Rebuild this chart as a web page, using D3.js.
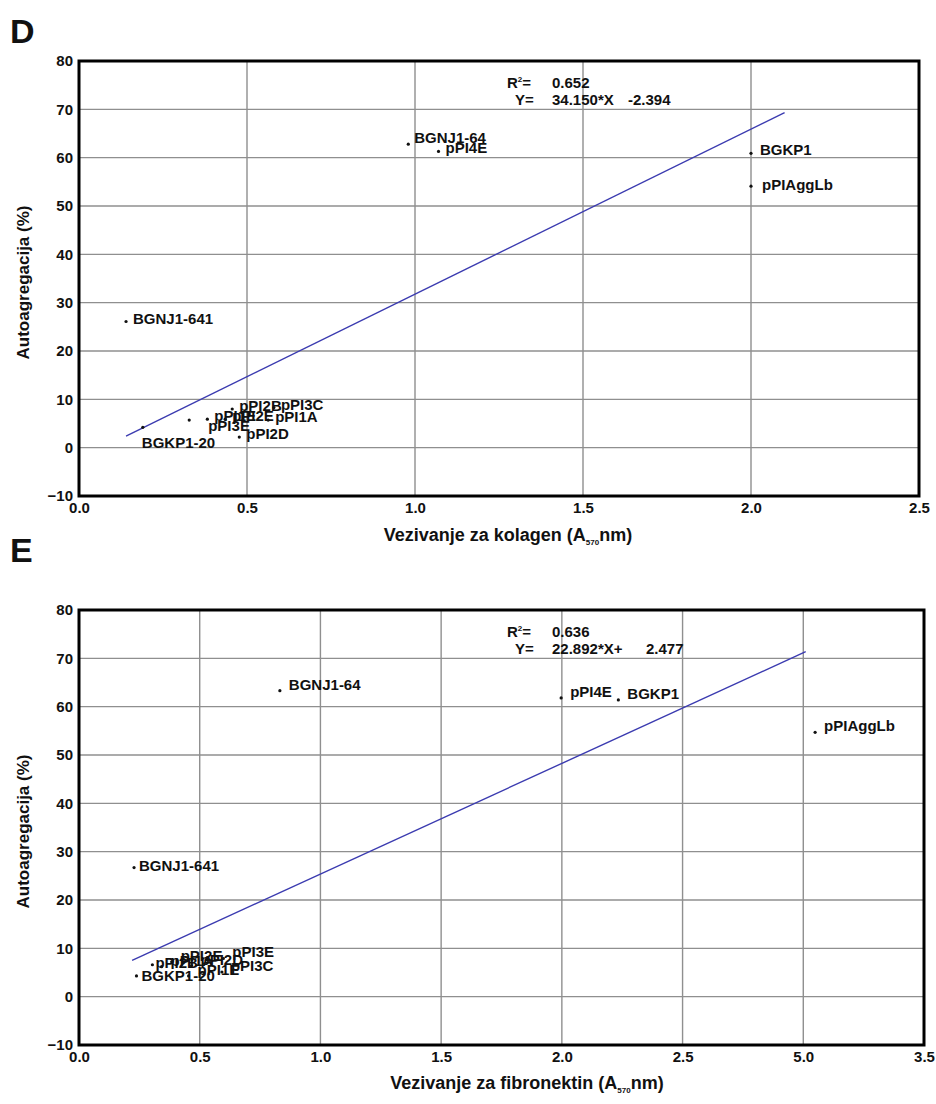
<!DOCTYPE html>
<html>
<head>
<meta charset="utf-8">
<script src="https://cdn.jsdelivr.net/npm/d3@7/dist/d3.min.js"></script>
<style>
  html, body { margin: 0; padding: 0; background: #fff; }
  svg { display: block; }
  text { font-family: "Liberation Sans", Arial, Helvetica, sans-serif; font-weight: bold; fill: #111; }
</style>
</head>
<body>
<script>
// ---------------- DATA ----------------
// Panel D: collagen binding vs autoaggregation
const strainsD = ["BGNJ1-64", "pPI4E", "BGKP1", "pPIAggLb", "BGNJ1-641", "BGKP1-20",
                  "pPI2B", "pPI3C", "pPI1A", "pPI2D", "pPI3E", "pPI1E", "pPI2E"];
const collagenD = [0.98, 1.07, 2.00, 2.00, 0.14, 0.19,
                   0.456, 0.58, 0.563, 0.477, 0.328, 0.382, 0.435];
const autoaggD  = [62.8, 61.3, 60.9, 54.1, 26.1, 4.2,
                   8.0, 8.3, 5.7, 2.2, 5.7, 5.9, 5.9];
const fitD = [34.150, -2.394];          // slope, intercept
const fitRangeD = [0.14, 2.10];
const r2TextD = "0.652";
const eqTextD = ["34.150*X", "-2.394"];

// Panel E: fibronectin binding vs autoaggregation
const strainsE = ["BGNJ1-64", "pPI4E", "BGKP1", "pPIAggLb", "BGNJ1-641", "BGKP1-20",
                  "pPI2B", "pPI2E", "pPI3E", "pPI3C", "pPI1E", "pPI1A", "pPI2D"];
const fibronectinE = [0.832, 1.997, 2.234, 3.049, 0.228, 0.238,
                      0.304, 0.384, 0.598, 0.592, 0.454, 0.342, 0.466];
const autoaggE     = [63.3, 61.8, 61.4, 54.7, 26.7, 4.3,
                      6.6, 7.2, 7.9, 5.1, 4.3, 6.2, 6.4];
const fitE = [22.892, 2.477];
const fitRangeE = [0.22, 3.01];
const r2TextE = "0.636";
const eqTextE = ["22.892*X+", "2.477"];

// Axes
const yTicks = [-10, 0, 10, 20, 30, 40, 50, 60, 70, 80];
const xTicksD = [0, 0.5, 1.0, 1.5, 2.0, 2.5];
const xTickLabelsD = ["0.0", "0.5", "1.0", "1.5", "2.0", "2.5"];
const xTicksE = [0, 0.5, 1.0, 1.5, 2.0, 2.5, 3.0, 3.5];
const xTickLabelsE = ["0.0", "0.5", "1.0", "1.5", "2.0", "2.5", "5.0", "3.5"];
const yTitle = "Autoagregacija (%)";
const xTitleD = ["Vezivanje za kolagen (A", "570", "nm)"];
const xTitleE = ["Vezivanje za fibronektin (A", "570", "nm)"];

// ---------------- LAYOUT ----------------
const W = 936, H = 1104;
const svg = d3.select("body").append("svg").attr("width", W).attr("height", H);

function drawPanel(cfg) {
  const g = svg.append("g");
  const x = d3.scaleLinear().domain([cfg.xTicks[0], cfg.xTicks[cfg.xTicks.length - 1]]).range([cfg.left, cfg.right]);
  const y = d3.scaleLinear().domain([-10, 80]).range([cfg.bottom, cfg.top]);

  // panel letter
  g.append("text").attr("x", 10).attr("y", cfg.letterY).attr("font-size", 34).text(cfg.letter);

  // grid
  g.selectAll(".hg").data(yTicks.slice(1, -1)).enter().append("line")
    .attr("x1", cfg.left).attr("x2", cfg.right)
    .attr("y1", d => y(d)).attr("y2", d => y(d))
    .attr("stroke", "#8f8f8f").attr("stroke-width", 1.4);
  g.selectAll(".vg").data(cfg.xTicks.slice(1, -1)).enter().append("line")
    .attr("y1", cfg.top).attr("y2", cfg.bottom)
    .attr("x1", d => x(d)).attr("x2", d => x(d))
    .attr("stroke", "#8f8f8f").attr("stroke-width", 1.4);

  // axes via d3 (labels only)
  const yAxis = d3.axisLeft(y).tickValues(yTicks).tickSize(0).tickPadding(6);
  const ya = g.append("g").attr("transform", `translate(${cfg.left},0)`).call(yAxis);
  ya.select(".domain").remove();
  ya.selectAll("text").attr("font-size", 15).attr("font-family", null).attr("fill", "#111");

  const xAxis = d3.axisBottom(x).tickValues(cfg.xTicks).tickSize(0).tickPadding(6)
    .tickFormat((d, i) => cfg.xTickLabels[i]);
  const xa = g.append("g").attr("transform", `translate(0,${cfg.bottom})`).call(xAxis);
  xa.select(".domain").remove();
  xa.selectAll("text").attr("font-size", 15).attr("font-family", null).attr("fill", "#111");

  // regression line
  const line = d3.line().x(d => x(d)).y(d => y(cfg.fit[0] * d + cfg.fit[1]));
  g.append("path").datum(cfg.fitRange).attr("d", line)
    .attr("fill", "none").attr("stroke", "#3b3bb0").attr("stroke-width", 1.4);

  // points + labels
  const pts = cfg.names.map((n, i) => ({ n, xv: cfg.xs[i], yv: cfg.ys[i] }));
  g.selectAll(".pt").data(pts).enter().append("circle")
    .attr("cx", d => x(d.xv)).attr("cy", d => y(d.yv)).attr("r", 1.6).attr("fill", "#111");
  g.selectAll(".lb").data(pts).enter().append("text")
    .attr("x", d => x(d.xv) + cfg.labelDx + ((cfg.nudge[d.n] || [0, 0])[0]))
    .attr("y", d => y(d.yv) + cfg.labelDy + ((cfg.nudge[d.n] || [0, 0])[1]))
    .attr("font-size", 15).text(d => d.n);

  // equation text
  const eq = g.append("g");
  const r = eq.append("text").attr("x", cfg.left + 428).attr("y", cfg.top + 27).attr("font-size", 15);
  r.append("tspan").text("R");
  r.append("tspan").attr("font-size", 8).attr("dy", -6).text("2");
  r.append("tspan").attr("dy", 6).text("=");
  eq.append("text").attr("x", cfg.left + 473).attr("y", cfg.top + 27).attr("font-size", 15).text(cfg.r2);
  eq.append("text").attr("x", cfg.left + 436).attr("y", cfg.top + 44).attr("font-size", 15).text("Y=");
  eq.append("text").attr("x", cfg.left + 473).attr("y", cfg.top + 44).attr("font-size", 15).text(cfg.eq[0]);
  eq.append("text").attr("x", cfg.left + cfg.eqSecondX).attr("y", cfg.top + 44).attr("font-size", 15).text(cfg.eq[1]);

  // frame
  g.append("rect").attr("x", cfg.left).attr("y", cfg.top)
    .attr("width", cfg.right - cfg.left).attr("height", cfg.bottom - cfg.top)
    .attr("fill", "none").attr("stroke", "#000").attr("stroke-width", 3);

  // titles
  const yt = g.append("text")
    .attr("transform", `translate(29,${(cfg.top + cfg.bottom) / 2 + 4}) rotate(-90)`)
    .attr("text-anchor", "middle").attr("font-size", 17).text(yTitle);
  const xt = g.append("text").attr("x", cfg.xTitleCx).attr("y", cfg.xTitleY)
    .attr("text-anchor", "middle").attr("font-size", 18);
  xt.append("tspan").text(cfg.xTitle[0]);
  xt.append("tspan").attr("font-size", 8).attr("dy", 4).text(cfg.xTitle[1]);
  xt.append("tspan").attr("dy", -4).text(cfg.xTitle[2]);
}

drawPanel({
  letter: "D", letterY: 43,
  left: 79, right: 919, top: 61, bottom: 496,
  xTicks: xTicksD, xTickLabels: xTickLabelsD,
  names: strainsD, xs: collagenD, ys: autoaggD,
  fit: fitD, fitRange: fitRangeD, r2: r2TextD, eq: eqTextD, eqSecondX: 549,
  labelDx: 7, labelDy: 2,
  nudge: { "BGNJ1-64": [-1, -3], "BGKP1-20": [-8, 19], "pPI3E": [12, 9], "BGKP1": [2, 0], "pPIAggLb": [4, 2] },
  xTitle: xTitleD, xTitleCx: 508, xTitleY: 541
});

drawPanel({
  letter: "E", letterY: 562,
  left: 79, right: 924, top: 610, bottom: 1045,
  xTicks: xTicksE, xTickLabels: xTickLabelsE,
  names: strainsE, xs: fibronectinE, ys: autoaggE,
  fit: fitE, fitRange: fitRangeE, r2: r2TextE, eq: eqTextE, eqSecondX: 567,
  labelDx: 9, labelDy: -1,
  nudge: { "BGNJ1-641": [-4, 4], "BGKP1-20": [-4, 6], "pPI2B": [-6, 4] },
  xTitle: xTitleE, xTitleCx: 527, xTitleY: 1089
});
</script>
</body>
</html>
